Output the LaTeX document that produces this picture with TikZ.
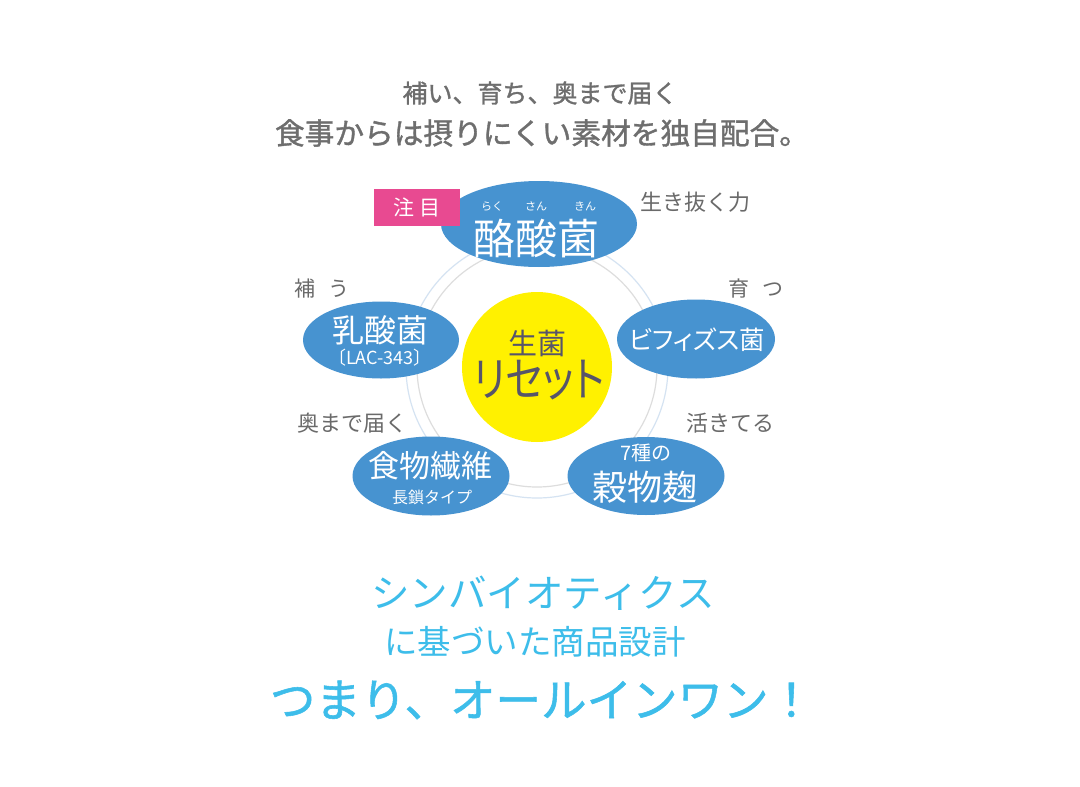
\documentclass[tikz,border=0pt]{standalone}
\usepackage{fontspec}
\usetikzlibrary{shapes.geometric}
\newfontfamily\jp{Noto Sans CJK JP}
\newfontfamily\jpp[RawFeature=+palt]{Noto Sans CJK JP}
\newfontfamily\jpb[FakeBold=1.2]{Noto Sans CJK JP}
\newcommand{\jfs}[1]{\fontsize{#1}{#1}\selectfont}
\definecolor{blobblue}{HTML}{4793D0}
\definecolor{pinkbox}{HTML}{E84A91}
\definecolor{centeryellow}{HTML}{FFF100}
\definecolor{labelgray}{HTML}{6A6A6A}
\definecolor{titlegray}{HTML}{6E6E6E}
\definecolor{centertext}{HTML}{57556A}
\definecolor{cyantext}{HTML}{3DBDEA}
\definecolor{ringblue}{HTML}{D5E3F2}
\definecolor{ringgray}{HTML}{DDDDDD}
\begin{document}
\begin{tikzpicture}[x=1pt,y=-1pt,
  blob/.style={ellipse, fill=blobblue, inner sep=0pt},
  lbl/.style={text=labelgray, inner sep=0pt},
  wtxt/.style={text=white, inner sep=0pt},
  title/.style={text=titlegray, inner sep=0pt},
  cyan/.style={text=cyantext, inner sep=0pt}]
\useasboundingbox[fill=white] (0,0) rectangle (1080,787);
% titles
\node[title, font=\jpb\jfs{25}] (t1) at (540,93) {補い、育ち、奥まで届く};
\node[title, font=\jpb\jfs{29.7}] (t2) at (542,133) {食事からは摂りにくい素材を独自配合。};
% rings
\coordinate (c) at (537,367);
\draw[ringblue, line width=1.2pt] (c) circle[radius=131pt];
\draw[ringgray, line width=1.2pt] (c) circle[radius=120pt];
% center
\node[circle, fill=centeryellow, minimum size=150pt, inner sep=0pt] (center) at (c) {};
\node[text=centertext, inner sep=0pt, font=\jp\jfs{29}] (seikin) at (537,343) {生菌};
\node[text=centertext, inner sep=0pt, font=\jpp\jfs{47}] (reset) at (539,380) {\scalebox{0.84}[1]{リセット}};
% blobs
\node[blob, minimum width=196pt, minimum height=86pt] (b1) at (539,224) {};
\node[blob, minimum width=156pt, minimum height=77pt] (b2) at (381,340) {};
\node[blob, minimum width=158pt, minimum height=79pt] (b3) at (696,339) {};
\node[blob, minimum width=157pt, minimum height=79pt] (b4) at (431,476) {};
\node[blob, minimum width=157pt, minimum height=78pt] (b5) at (646,476) {};
% attention box
\node[fill=pinkbox, minimum width=86pt, minimum height=37pt, inner sep=0pt, text=white, font=\jp\jfs{21}] (chumoku) at (417,207) {注\hspace{5pt}目};
% blob texts
\node[wtxt, font=\jp\jfs{11}] (r1) at (492,206) {らく};
\node[wtxt, font=\jp\jfs{11}] (r2) at (536,206) {さん};
\node[wtxt, font=\jp\jfs{11}] (r3) at (585,206) {きん};
\node[wtxt, font=\jp\jfs{42}] (rakusan) at (536,239) {酪酸菌};
\node[wtxt, font=\jp\jfs{32}] (nyusan) at (380,330) {乳酸菌};
\node[wtxt, font=\jp\jfs{18}] (lac) at (380,358) {〔LAC-343〕};
\node[wtxt, font=\jpp\jfs{25.5}] (bifi) at (697,340) {ビフィズス菌};
\node[wtxt, font=\jp\jfs{31}] (shoku) at (430,466) {食物繊維};
\node[wtxt, font=\jp\jfs{16}] (chosa) at (432,497) {長鎖タイプ};
\node[wtxt, font=\jp\jfs{20}] (nana) at (646,453) {7種の};
\node[wtxt, font=\jp\jfs{35}] (koku) at (645,487) {穀物麹};
% gray labels
\node[lbl, font=\jp\jfs{22}] (l1) at (695,202) {生き抜く力};
\node[lbl, font=\jp\jfs{21}] (l2) at (322,289) {補\hspace{13pt}う};
\node[lbl, font=\jp\jfs{21}] (l3) at (756,289) {育\hspace{13pt}つ};
\node[lbl, font=\jp\jfs{22}] (l4) at (352,423) {奥まで届く};
\node[lbl, font=\jp\jfs{22}] (l5) at (730,423) {活きてる};
% bottom
\node[cyan, font=\jp\jfs{38.5}] (s1) at (543,593) {シンバイオティクス};
\node[cyan, font=\jp\jfs{33.5}] (s2) at (535,642) {に基づいた商品設計};
\node[cyan, font=\jpb\jfs{45.5}] (s3) at (542,700) {つまり、オールインワン！};
\end{tikzpicture}
\end{document}
